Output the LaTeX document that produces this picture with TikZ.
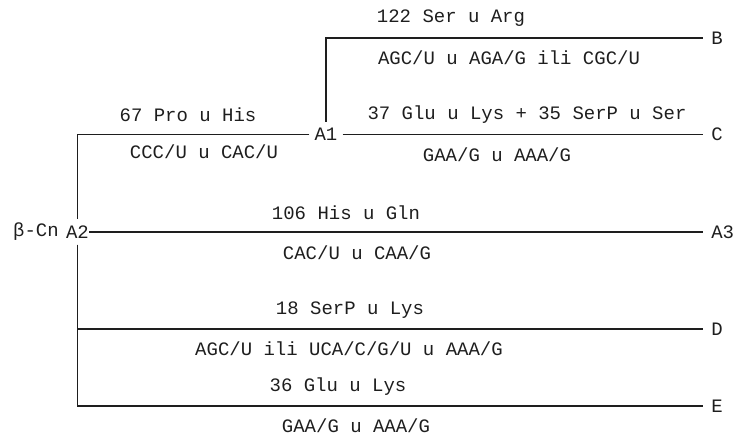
\documentclass[tikz,border=0pt]{standalone}
\usepackage{fontspec}
\newfontfamily\codefont{Liberation Mono}
\usepackage{tikz}
\usetikzlibrary{positioning,calc}
\usepackage{xcolor}
\definecolor{inkgrey}{RGB}{30,30,30}

\begin{document}
\begin{tikzpicture}[
    txt/.style={font=\codefont\fontsize{10.8}{13}\selectfont, text=inkgrey, inner sep=0pt},
    junc/.style={txt, inner xsep=0.1cm, inner ysep=0.12cm},
    tip/.style={txt, anchor=west, inner xsep=0.16cm},
    branch/.style={draw=inkgrey, line width=1pt}
]
    \useasboundingbox (0,0) rectangle (14.74,-8.74);

    % Branch points
    \node[junc] (A1) at (6.52,-2.69) {A1};
    \node[junc, inner xsep=0pt] (A2) at (1.55,-4.64) {A2};
    \node[txt] (bcn) at (0.72,-4.64) {β-Cn};

    % Variants
    \node[tip] (B) at (14.06,-0.76) {B};
    \node[tip] (C) at (14.06,-2.69) {C};
    \node[tip] (A3) at (14.06,-4.64) {A3};
    \node[tip] (D) at (14.06,-6.58) {D};
    \node[tip] (E) at (14.06,-8.12) {E};

    \draw[branch] (A1) -| (A2);
    \draw[branch] (A1.north) |- (B);
    \draw[branch] (A1) -- (C);
    \draw[branch] (A2) -- (A3);
    \draw[branch] (A2) |- (D);
    \draw[branch] (A2) |- (E);

    % Substitutions and codons
    \node[txt] (aaB) at (9.02,-0.36) {122 Ser u Arg};
    \node[txt] (codB) at (10.18,-1.16) {AGC/U u AGA/G ili CGC/U};
    \node[txt] (aaA1) at (3.76,-2.30) {67 Pro u His};
    \node[txt] (codA1) at (4.08,-3.04) {CCC/U u CAC/U};
    \node[txt] (aaC) at (10.54,-2.30) {37 Glu u Lys + 35 SerP u Ser};
    \node[txt] (codC) at (9.94,-3.10) {GAA/G u AAA/G};
    \node[txt] (aaA3) at (6.92,-4.26) {106 His u Gln};
    \node[txt] (codA3) at (7.14,-5.06) {CAC/U u CAA/G};
    \node[txt] (aaD) at (7.00,-6.20) {18 SerP u Lys};
    \node[txt] (codD) at (6.98,-6.98) {AGC/U ili UCA/C/G/U u AAA/G};
    \node[txt] (aaE) at (6.76,-7.74) {36 Glu u Lys};
    \node[txt] (codE) at (7.12,-8.52) {GAA/G u AAA/G};
\end{tikzpicture}
\end{document}
